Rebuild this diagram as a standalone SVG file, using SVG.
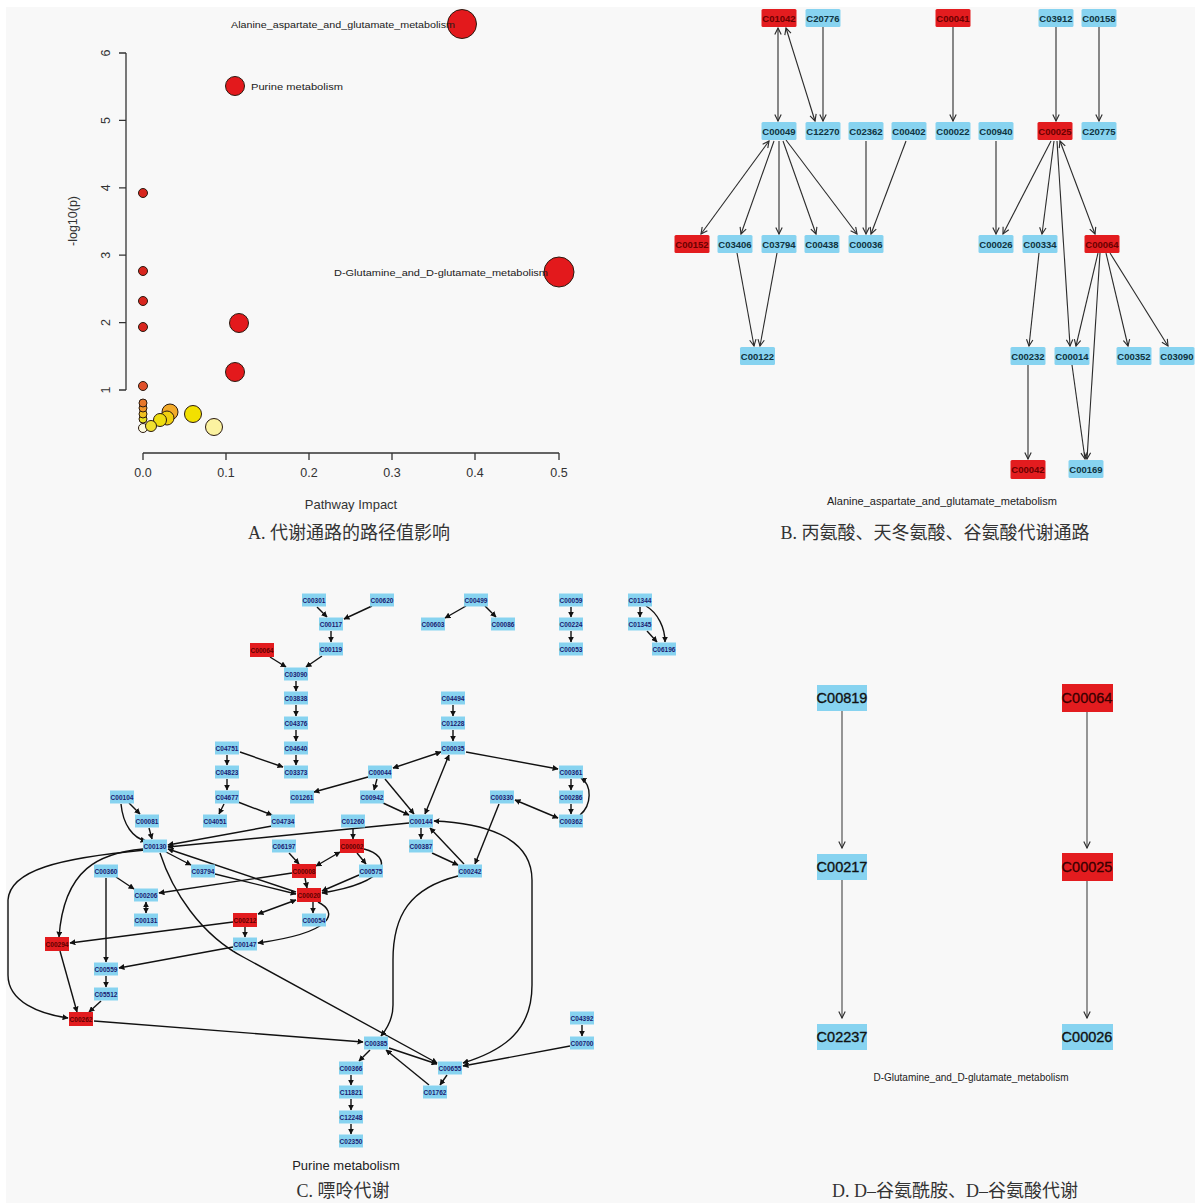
<svg xmlns="http://www.w3.org/2000/svg" width="1197" height="1203" viewBox="0 0 1197 1203">
<style>
text{font-family:"Liberation Sans","DejaVu Sans",sans-serif}
.cap{font-family:"Liberation Serif","Noto Sans CJK SC",serif;font-size:18px;fill:#333;text-anchor:middle}
.tick{font-size:12.5px;fill:#333;text-anchor:middle}
.plab{font-size:9.5px;fill:#1a1a1a}
.ax{stroke:#333;stroke-width:1.3;fill:none}
.pt{stroke:#2a1a10;stroke-width:1}
.bb{fill:#87d3f0}.br{fill:#e31c1f}
.bt{font-size:9.5px;font-weight:bold;fill:#0f3340;text-anchor:middle}
.brt{font-size:9.5px;font-weight:bold;fill:#6a0000;text-anchor:middle}
.cb{fill:#87d3f0}.cr{fill:#e31c1f}
.ct{font-size:6.5px;font-weight:bold;fill:#1a1a70;text-anchor:middle}
.crt{font-size:6.5px;font-weight:bold;fill:#600000;text-anchor:middle}
.dt{font-size:14.5px;fill:#111;stroke:#111;stroke-width:0.35;text-anchor:middle}
.drt{font-size:14.5px;fill:#3a0000;stroke:#3a0000;stroke-width:0.3;text-anchor:middle}
.eb{stroke:#2b2b2b;stroke-width:1.1;fill:none;marker-end:url(#mb)}
.ebb{stroke:#2b2b2b;stroke-width:1.1;fill:none;marker-end:url(#mb);marker-start:url(#mb)}
.ed{stroke:#444;stroke-width:1.1;fill:none;marker-end:url(#mb)}
.ec{stroke:#111;stroke-width:1.4;fill:none;marker-end:url(#mc)}
.ecb{stroke:#111;stroke-width:1.4;fill:none;marker-end:url(#mc);marker-start:url(#mc)}
.sub{font-size:11px;fill:#222;text-anchor:middle}
</style>
<defs>
<marker id="mb" viewBox="0 0 10 10" refX="9" refY="5" markerWidth="8" markerHeight="8" markerUnits="userSpaceOnUse" orient="auto-start-reverse"><path d="M1,1 L9,5 L1,9" fill="none" stroke="#2b2b2b" stroke-width="1.4"/></marker>
<marker id="mc" viewBox="0 0 10 10" refX="9" refY="5" markerWidth="6" markerHeight="6" markerUnits="userSpaceOnUse" orient="auto-start-reverse"><path d="M0,0 L10,5 L0,10 z" fill="#111"/></marker>
</defs>
<rect x="0" y="0" width="1197" height="1203" fill="#ffffff"/>
<rect x="6" y="7" width="1189" height="1196" fill="#f8f8f8"/>

<!-- Panel A -->
<g id="panelA">
<path class="ax" d="M126,53 L126,390 M119,53 L126,53 M119,120.4 L126,120.4 M119,187.8 L126,187.8 M119,255.2 L126,255.2 M119,322.6 L126,322.6 M119,390 L126,390"/>
<path class="ax" d="M143,453 L559,453 M143,453 L143,460 M226,453 L226,460 M309,453 L309,460 M392,453 L392,460 M475,453 L475,460 M559,453 L559,460"/>
<text class="tick" transform="rotate(-90 110 53)" x="110" y="53">6</text>
<text class="tick" transform="rotate(-90 110 120.4)" x="110" y="120.4">5</text>
<text class="tick" transform="rotate(-90 110 187.8)" x="110" y="187.8">4</text>
<text class="tick" transform="rotate(-90 110 255.2)" x="110" y="255.2">3</text>
<text class="tick" transform="rotate(-90 110 322.6)" x="110" y="322.6">2</text>
<text class="tick" transform="rotate(-90 110 390)" x="110" y="390">1</text>
<text class="tick" x="143" y="477">0.0</text>
<text class="tick" x="226" y="477">0.1</text>
<text class="tick" x="309" y="477">0.2</text>
<text class="tick" x="392" y="477">0.3</text>
<text class="tick" x="475" y="477">0.4</text>
<text class="tick" x="559" y="477">0.5</text>
<text class="tick" x="351" y="509" style="font-size:13px">Pathway Impact</text>
<text class="tick" transform="rotate(-90 77 221)" x="77" y="221">-log10(p)</text>
<circle class="pt" cx="143" cy="193" r="4.5" fill="#d8261e"/>
<circle class="pt" cx="143" cy="271" r="4.5" fill="#d8261e"/>
<circle class="pt" cx="143" cy="301" r="4.5" fill="#d8261e"/>
<circle class="pt" cx="143" cy="327" r="4.5" fill="#d8261e"/>
<circle class="pt" cx="143" cy="386" r="4.5" fill="#e0502a"/>
<circle class="pt" cx="143" cy="428" r="4.5" fill="#fdfbe0"/>
<circle class="pt" cx="143" cy="419" r="4" fill="#e8e020"/>
<circle class="pt" cx="143" cy="414" r="4" fill="#f0c020"/>
<circle class="pt" cx="143" cy="408" r="4" fill="#f0962a"/>
<circle class="pt" cx="143" cy="403" r="4" fill="#e8772a"/>
<circle class="pt" cx="214" cy="427" r="8.5" fill="#fbf2a0"/>
<circle class="pt" cx="193" cy="414" r="8.5" fill="#f2e000"/>
<circle class="pt" cx="170" cy="412" r="8" fill="#f2aa2a"/>
<circle class="pt" cx="167" cy="418" r="7" fill="#f0d010"/>
<circle class="pt" cx="160" cy="420" r="6.5" fill="#eedd10"/>
<circle class="pt" cx="151" cy="426" r="5.5" fill="#efe030"/>
<circle class="pt" cx="239" cy="323" r="9.5" fill="#e3191c"/>
<circle class="pt" cx="235" cy="372" r="9.5" fill="#e3191c"/>
<circle class="pt" cx="235" cy="86" r="9.5" fill="#e3191c"/>
<circle class="pt" cx="462" cy="24" r="14.5" fill="#e3191c"/>
<circle class="pt" cx="559" cy="272" r="15" fill="#e3191c"/>
<text class="plab" x="231" y="28" textLength="224" lengthAdjust="spacingAndGlyphs">Alanine_aspartate_and_glutamate_metabolism</text>
<text class="plab" x="251" y="90" textLength="92" lengthAdjust="spacingAndGlyphs">Purine metabolism</text>
<text class="plab" x="334" y="276" textLength="214" lengthAdjust="spacingAndGlyphs">D-Glutamine_and_D-glutamate_metabolism</text>
<text class="cap" x="349" y="539">A. 代谢通路的路径值影响</text>
</g>

<!-- Panel B connectors -->
<g id="edgesB">
<path class="ebb" d="M778,28 L778,121"/>
<path class="ebb" d="M786,28 L815,121"/>
<path class="eb" d="M823,27 L823,121"/>
<path class="eb" d="M953,27 L953,121"/>
<path class="eb" d="M1056,27 L1056,121"/>
<path class="eb" d="M1099,27 L1099,121"/>
<path class="ebb" d="M769,141 L701,234"/>
<path class="eb" d="M774,141 L741,234"/>
<path class="eb" d="M779,141 L779,234"/>
<path class="eb" d="M783,141 L816,234"/>
<path class="eb" d="M786,140 L857,234"/>
<path class="eb" d="M866,141 L866,234"/>
<path class="eb" d="M906,141 L871,234"/>
<path class="eb" d="M996,141 L996,234"/>
<path class="eb" d="M1051,141 L1003,234"/>
<path class="eb" d="M1054,141 L1042,234"/>
<path class="eb" d="M1057,141 L1070,346"/>
<path class="ebb" d="M1060,141 L1095,234"/>
<path class="eb" d="M737,253 L754,346"/>
<path class="eb" d="M777,253 L760,346"/>
<path class="eb" d="M1039,253 L1029,346"/>
<path class="eb" d="M1098,253 L1076,346"/>
<path class="eb" d="M1106,253 L1128,346"/>
<path class="eb" d="M1110,253 L1168,346"/>
<path class="eb" d="M1100,253 L1087,459"/>
<path class="eb" d="M1028,365 L1028,459"/>
<path class="eb" d="M1072,365 L1085,459"/>
</g>

<!-- Panel B nodes -->
<g id="B_C01042"><rect class="br" x="761.5" y="9" width="35" height="18" rx="1.5"/><text class="brt" x="779" y="21.5">C01042</text></g>
<g id="B_C20776"><rect class="bb" x="805.5" y="9" width="35" height="18" rx="1.5"/><text class="bt" x="823" y="21.5">C20776</text></g>
<g id="B_C00041"><rect class="br" x="935.5" y="9" width="35" height="18" rx="1.5"/><text class="brt" x="953" y="21.5">C00041</text></g>
<g id="B_C03912"><rect class="bb" x="1038.5" y="9" width="35" height="18" rx="1.5"/><text class="bt" x="1056" y="21.5">C03912</text></g>
<g id="B_C00158"><rect class="bb" x="1081.5" y="9" width="35" height="18" rx="1.5"/><text class="bt" x="1099" y="21.5">C00158</text></g>
<g id="B_C00049"><rect class="bb" x="761.5" y="122" width="35" height="18" rx="1.5"/><text class="bt" x="779" y="134.5">C00049</text></g>
<g id="B_C12270"><rect class="bb" x="805.5" y="122" width="35" height="18" rx="1.5"/><text class="bt" x="823" y="134.5">C12270</text></g>
<g id="B_C02362"><rect class="bb" x="848.5" y="122" width="35" height="18" rx="1.5"/><text class="bt" x="866" y="134.5">C02362</text></g>
<g id="B_C00402"><rect class="bb" x="891.5" y="122" width="35" height="18" rx="1.5"/><text class="bt" x="909" y="134.5">C00402</text></g>
<g id="B_C00022"><rect class="bb" x="935.5" y="122" width="35" height="18" rx="1.5"/><text class="bt" x="953" y="134.5">C00022</text></g>
<g id="B_C00940"><rect class="bb" x="978.5" y="122" width="35" height="18" rx="1.5"/><text class="bt" x="996" y="134.5">C00940</text></g>
<g id="B_C00025"><rect class="br" x="1037.5" y="122" width="35" height="18" rx="1.5"/><text class="brt" x="1055" y="134.5">C00025</text></g>
<g id="B_C20775"><rect class="bb" x="1081.5" y="122" width="35" height="18" rx="1.5"/><text class="bt" x="1099" y="134.5">C20775</text></g>
<g id="B_C00152"><rect class="br" x="674.5" y="235" width="35" height="18" rx="1.5"/><text class="brt" x="692" y="247.5">C00152</text></g>
<g id="B_C03406"><rect class="bb" x="717.5" y="235" width="35" height="18" rx="1.5"/><text class="bt" x="735" y="247.5">C03406</text></g>
<g id="B_C03794"><rect class="bb" x="761.5" y="235" width="35" height="18" rx="1.5"/><text class="bt" x="779" y="247.5">C03794</text></g>
<g id="B_C00438"><rect class="bb" x="804.5" y="235" width="35" height="18" rx="1.5"/><text class="bt" x="822" y="247.5">C00438</text></g>
<g id="B_C00036"><rect class="bb" x="848.5" y="235" width="35" height="18" rx="1.5"/><text class="bt" x="866" y="247.5">C00036</text></g>
<g id="B_C00026"><rect class="bb" x="978.5" y="235" width="35" height="18" rx="1.5"/><text class="bt" x="996" y="247.5">C00026</text></g>
<g id="B_C00334"><rect class="bb" x="1022.5" y="235" width="35" height="18" rx="1.5"/><text class="bt" x="1040" y="247.5">C00334</text></g>
<g id="B_C00064"><rect class="br" x="1084.5" y="235" width="35" height="18" rx="1.5"/><text class="brt" x="1102" y="247.5">C00064</text></g>
<g id="B_C00122"><rect class="bb" x="740" y="347" width="35" height="18" rx="1.5"/><text class="bt" x="757.5" y="359.5">C00122</text></g>
<g id="B_C00232"><rect class="bb" x="1010.5" y="347" width="35" height="18" rx="1.5"/><text class="bt" x="1028" y="359.5">C00232</text></g>
<g id="B_C00014"><rect class="bb" x="1054.5" y="347" width="35" height="18" rx="1.5"/><text class="bt" x="1072" y="359.5">C00014</text></g>
<g id="B_C00352"><rect class="bb" x="1116.5" y="347" width="35" height="18" rx="1.5"/><text class="bt" x="1134" y="359.5">C00352</text></g>
<g id="B_C03090"><rect class="bb" x="1159.5" y="347" width="35" height="18" rx="1.5"/><text class="bt" x="1177" y="359.5">C03090</text></g>
<g id="B_C00042"><rect class="br" x="1010.5" y="460" width="35" height="19" rx="1.5"/><text class="brt" x="1028" y="473">C00042</text></g>
<g id="B_C00169"><rect class="bb" x="1068.5" y="460" width="35" height="18" rx="1.5"/><text class="bt" x="1086" y="472.5">C00169</text></g>
<text class="sub" x="942" y="505">Alanine_aspartate_and_glutamate_metabolism</text>
<text class="cap" x="935" y="539">B. 丙氨酸、天冬氨酸、谷氨酸代谢通路</text>

<!-- Panel C connectors -->
<g id="edgesC">
<path class="ec" d="M317,607 L327,617"/>
<path class="ec" d="M372,606 L344,619"/>
<path class="ec" d="M331,631 L331,642"/>
<path class="ec" d="M270,657 L286,667"/>
<path class="ec" d="M322,656 L306,667"/>
<path class="ec" d="M296,681 L296,691"/>
<path class="ec" d="M296,705 L296,716"/>
<path class="ec" d="M296,730 L296,741"/>
<path class="ec" d="M296,755 L296,765"/>
<path class="ec" d="M240,752 L283,767"/>
<path class="ec" d="M227,755 L227,765"/>
<path class="ec" d="M227,779 L227,790"/>
<path class="ec" d="M224,804 L219,814"/>
<path class="ec" d="M238,802 L272,815"/>
<path class="ec" d="M272,826 L168,845"/>
<path class="ec" d="M129,803 L140,814"/>
<path class="ec" d="M121,804 C123,825 133,838 146,841"/>
<path class="ec" d="M149,828 L152,839"/>
<path class="ec" d="M466,606 L445,618"/>
<path class="ec" d="M485,606 L496,617"/>
<path class="ec" d="M571,607 L571,617"/>
<path class="ec" d="M571,631 L571,642"/>
<path class="ec" d="M640,607 L640,617"/>
<path class="ec" d="M647,631 L657,642"/>
<path class="ec" d="M646,606 C658,613 665,628 665,642"/>
<path class="ec" d="M453,705 L453,716"/>
<path class="ec" d="M453,730 L453,741"/>
<path class="ecb" d="M441,752 L393,768"/>
<path class="ec" d="M466,752 L558,769"/>
<path class="ec" d="M368,777 L314,792"/>
<path class="ec" d="M377,779 L374,790"/>
<path class="ec" d="M385,779 L414,814"/>
<path class="ec" d="M383,803 L409,815"/>
<path class="ecb" d="M425,814 L449,755"/>
<path class="ec" d="M421,828 L421,839"/>
<path class="ec" d="M432,853 L458,865"/>
<path class="ec" d="M464,864 L430,828"/>
<path class="ec" d="M499,804 L475,864"/>
<path class="ecb" d="M515,800 L558,818"/>
<path class="ec" d="M571,779 L571,790"/>
<path class="ec" d="M571,804 L571,814"/>
<path class="ec" d="M580,815 C592,805 592,785 581,778"/>
<path class="ec" d="M409,823 L168,847"/>
<path class="ecb" d="M463,1063 C505,1050 532,1030 532,985 L532,880 C532,835 480,823 434,821"/>
<path class="ec" d="M458,876 C410,888 393,915 393,960 L393,1005 C393,1020 386,1030 381,1036"/>
<path class="ec" d="M160,853 C172,890 200,935 245,958 L437,1063"/>
<path class="ec" d="M94,1021 L363,1042"/>
<path class="ec" d="M370,1050 L359,1061"/>
<path class="ec" d="M389,1048 L437,1064"/>
<path class="ec" d="M429,1085 L386,1050"/>
<path class="ec" d="M447,1075 L440,1085"/>
<path class="ec" d="M351,1075 L351,1085"/>
<path class="ec" d="M351,1099 L351,1110"/>
<path class="ec" d="M351,1124 L351,1134"/>
<path class="ec" d="M582,1025 L582,1036"/>
<path class="ec" d="M570,1046 L463,1066"/>
<path class="ec" d="M143,849 C100,853 64,868 59,937"/>
<path class="ec" d="M145,850 C60,858 10,870 8,900 L8,975 C8,1002 40,1014 68,1018"/>
<path class="ec" d="M60,951 L77,1012"/>
<path class="ec" d="M101,1001 L89,1012"/>
<path class="ec" d="M106,878 L106,962"/>
<path class="ec" d="M116,877 L134,889"/>
<path class="ec" d="M106,976 L106,987"/>
<path class="ec" d="M233,947 L119,968"/>
<path class="ec" d="M233,922 L70,943"/>
<path class="ec" d="M245,927 L245,937"/>
<path class="ecb" d="M258,914 L296,900"/>
<path class="ec" d="M313,902 L313,913"/>
<path class="ec" d="M364,849 C392,856 392,882 322,893"/>
<path class="ec" d="M318,902 C338,912 336,932 258,943"/>
<path class="ec" d="M357,853 L366,864"/>
<path class="ec" d="M359,875 L322,891"/>
<path class="ec" d="M353,828 L353,839"/>
<path class="ec" d="M289,853 L299,864"/>
<path class="ecb" d="M316,866 L340,852"/>
<path class="ec" d="M292,873 L159,893"/>
<path class="ec" d="M305,878 L307,888"/>
<path class="ec" d="M296,892 L168,849"/>
<path class="ec" d="M166,852 L191,865"/>
<path class="ec" d="M215,874 L296,894"/>
<path class="ecb" d="M146,902 L146,913"/>
</g>

<!-- Panel C nodes -->
<g id="C_C00301"><rect class="cb" x="302" y="593.5" width="24" height="13"/><text class="ct" x="314" y="602.5">C00301</text></g>
<g id="C_C00620"><rect class="cb" x="370" y="593.5" width="24" height="13"/><text class="ct" x="382" y="602.5">C00620</text></g>
<g id="C_C00499"><rect class="cb" x="464" y="593.5" width="24" height="13"/><text class="ct" x="476" y="602.5">C00499</text></g>
<g id="C_C00059"><rect class="cb" x="559" y="593.5" width="24" height="13"/><text class="ct" x="571" y="602.5">C00059</text></g>
<g id="C_C01344"><rect class="cb" x="628" y="593.5" width="24" height="13"/><text class="ct" x="640" y="602.5">C01344</text></g>
<g id="C_C00117"><rect class="cb" x="319" y="617.5" width="24" height="13"/><text class="ct" x="331" y="626.5">C00117</text></g>
<g id="C_C00603"><rect class="cb" x="421" y="617.5" width="24" height="13"/><text class="ct" x="433" y="626.5">C00603</text></g>
<g id="C_C00086"><rect class="cb" x="491" y="617.5" width="24" height="13"/><text class="ct" x="503" y="626.5">C00086</text></g>
<g id="C_C00224"><rect class="cb" x="559" y="617.5" width="24" height="13"/><text class="ct" x="571" y="626.5">C00224</text></g>
<g id="C_C01345"><rect class="cb" x="628" y="617.5" width="24" height="13"/><text class="ct" x="640" y="626.5">C01345</text></g>
<g id="C_C00064"><rect class="cr" x="250" y="643" width="24" height="14"/><text class="crt" x="262" y="652.5">C00064</text></g>
<g id="C_C00119"><rect class="cb" x="319" y="642.5" width="24" height="13"/><text class="ct" x="331" y="651.5">C00119</text></g>
<g id="C_C00053"><rect class="cb" x="559" y="642.5" width="24" height="13"/><text class="ct" x="571" y="651.5">C00053</text></g>
<g id="C_C06196"><rect class="cb" x="652" y="642.5" width="24" height="13"/><text class="ct" x="664" y="651.5">C06196</text></g>
<g id="C_C03090"><rect class="cb" x="284" y="667.5" width="24" height="13"/><text class="ct" x="296" y="676.5">C03090</text></g>
<g id="C_C03838"><rect class="cb" x="284" y="691.5" width="24" height="13"/><text class="ct" x="296" y="700.5">C03838</text></g>
<g id="C_C04494"><rect class="cb" x="441" y="691.5" width="24" height="13"/><text class="ct" x="453" y="700.5">C04494</text></g>
<g id="C_C04376"><rect class="cb" x="284" y="716.5" width="24" height="13"/><text class="ct" x="296" y="725.5">C04376</text></g>
<g id="C_C01228"><rect class="cb" x="441" y="716.5" width="24" height="13"/><text class="ct" x="453" y="725.5">C01228</text></g>
<g id="C_C04751"><rect class="cb" x="215" y="741.5" width="24" height="13"/><text class="ct" x="227" y="750.5">C04751</text></g>
<g id="C_C04640"><rect class="cb" x="284" y="741.5" width="24" height="13"/><text class="ct" x="296" y="750.5">C04640</text></g>
<g id="C_C00035"><rect class="cb" x="441" y="741.5" width="24" height="13"/><text class="ct" x="453" y="750.5">C00035</text></g>
<g id="C_C04823"><rect class="cb" x="215" y="765.5" width="24" height="13"/><text class="ct" x="227" y="774.5">C04823</text></g>
<g id="C_C03373"><rect class="cb" x="284" y="765.5" width="24" height="13"/><text class="ct" x="296" y="774.5">C03373</text></g>
<g id="C_C00044"><rect class="cb" x="368" y="765.5" width="24" height="13"/><text class="ct" x="380" y="774.5">C00044</text></g>
<g id="C_C00361"><rect class="cb" x="559" y="765.5" width="24" height="13"/><text class="ct" x="571" y="774.5">C00361</text></g>
<g id="C_C00104"><rect class="cb" x="110" y="790.5" width="24" height="13"/><text class="ct" x="122" y="799.5">C00104</text></g>
<g id="C_C04677"><rect class="cb" x="215" y="790.5" width="24" height="13"/><text class="ct" x="227" y="799.5">C04677</text></g>
<g id="C_C01261"><rect class="cb" x="290" y="790.5" width="24" height="13"/><text class="ct" x="302" y="799.5">C01261</text></g>
<g id="C_C00942"><rect class="cb" x="360" y="790.5" width="24" height="13"/><text class="ct" x="372" y="799.5">C00942</text></g>
<g id="C_C00330"><rect class="cb" x="490" y="790.5" width="24" height="13"/><text class="ct" x="502" y="799.5">C00330</text></g>
<g id="C_C00286"><rect class="cb" x="559" y="790.5" width="24" height="13"/><text class="ct" x="571" y="799.5">C00286</text></g>
<g id="C_C00081"><rect class="cb" x="135" y="814.5" width="24" height="13"/><text class="ct" x="147" y="823.5">C00081</text></g>
<g id="C_C04051"><rect class="cb" x="203" y="814.5" width="24" height="13"/><text class="ct" x="215" y="823.5">C04051</text></g>
<g id="C_C04734"><rect class="cb" x="271" y="814.5" width="24" height="13"/><text class="ct" x="283" y="823.5">C04734</text></g>
<g id="C_C01260"><rect class="cb" x="341" y="814.5" width="24" height="13"/><text class="ct" x="353" y="823.5">C01260</text></g>
<g id="C_C00144"><rect class="cb" x="409" y="814.5" width="24" height="13"/><text class="ct" x="421" y="823.5">C00144</text></g>
<g id="C_C00362"><rect class="cb" x="559" y="814.5" width="24" height="13"/><text class="ct" x="571" y="823.5">C00362</text></g>
<g id="C_C00130"><rect class="cb" x="143" y="839.5" width="24" height="13"/><text class="ct" x="155" y="848.5">C00130</text></g>
<g id="C_C06197"><rect class="cb" x="272" y="839.5" width="24" height="13"/><text class="ct" x="284" y="848.5">C06197</text></g>
<g id="C_C00002"><rect class="cr" x="340" y="839" width="24" height="14"/><text class="crt" x="352" y="848.5">C00002</text></g>
<g id="C_C00387"><rect class="cb" x="409" y="839.5" width="24" height="13"/><text class="ct" x="421" y="848.5">C00387</text></g>
<g id="C_C00360"><rect class="cb" x="94" y="864.5" width="24" height="13"/><text class="ct" x="106" y="873.5">C00360</text></g>
<g id="C_C03794"><rect class="cb" x="191" y="864.5" width="24" height="13"/><text class="ct" x="203" y="873.5">C03794</text></g>
<g id="C_C00008"><rect class="cr" x="292" y="864" width="24" height="14"/><text class="crt" x="304" y="873.5">C00008</text></g>
<g id="C_C00575"><rect class="cb" x="359" y="864.5" width="24" height="13"/><text class="ct" x="371" y="873.5">C00575</text></g>
<g id="C_C00242"><rect class="cb" x="458" y="864.5" width="24" height="13"/><text class="ct" x="470" y="873.5">C00242</text></g>
<g id="C_C00206"><rect class="cb" x="134" y="888.5" width="24" height="13"/><text class="ct" x="146" y="897.5">C00206</text></g>
<g id="C_C00020"><rect class="cr" x="297" y="888" width="24" height="14"/><text class="crt" x="309" y="897.5">C00020</text></g>
<g id="C_C00131"><rect class="cb" x="134" y="913.5" width="24" height="13"/><text class="ct" x="146" y="922.5">C00131</text></g>
<g id="C_C00212"><rect class="cr" x="233" y="913" width="24" height="14"/><text class="crt" x="245" y="922.5">C00212</text></g>
<g id="C_C00054"><rect class="cb" x="302" y="913.5" width="24" height="13"/><text class="ct" x="314" y="922.5">C00054</text></g>
<g id="C_C00294"><rect class="cr" x="45" y="937" width="24" height="14"/><text class="crt" x="57" y="946.5">C00294</text></g>
<g id="C_C00147"><rect class="cb" x="233" y="937.5" width="24" height="13"/><text class="ct" x="245" y="946.5">C00147</text></g>
<g id="C_C00559"><rect class="cb" x="94" y="962.5" width="24" height="13"/><text class="ct" x="106" y="971.5">C00559</text></g>
<g id="C_C05512"><rect class="cb" x="94" y="987.5" width="24" height="13"/><text class="ct" x="106" y="996.5">C05512</text></g>
<g id="C_C00262"><rect class="cr" x="69" y="1012" width="24" height="14"/><text class="crt" x="81" y="1021.5">C00262</text></g>
<g id="C_C04392"><rect class="cb" x="570" y="1011.5" width="24" height="13"/><text class="ct" x="582" y="1020.5">C04392</text></g>
<g id="C_C00385"><rect class="cb" x="364" y="1036.5" width="24" height="13"/><text class="ct" x="376" y="1045.5">C00385</text></g>
<g id="C_C00700"><rect class="cb" x="570" y="1036.5" width="24" height="13"/><text class="ct" x="582" y="1045.5">C00700</text></g>
<g id="C_C00366"><rect class="cb" x="339" y="1061.5" width="24" height="13"/><text class="ct" x="351" y="1070.5">C00366</text></g>
<g id="C_C00655"><rect class="cb" x="438" y="1061.5" width="24" height="13"/><text class="ct" x="450" y="1070.5">C00655</text></g>
<g id="C_C11821"><rect class="cb" x="339" y="1085.5" width="24" height="13"/><text class="ct" x="351" y="1094.5">C11821</text></g>
<g id="C_C01762"><rect class="cb" x="423" y="1085.5" width="24" height="13"/><text class="ct" x="435" y="1094.5">C01762</text></g>
<g id="C_C12248"><rect class="cb" x="339" y="1110.5" width="24" height="13"/><text class="ct" x="351" y="1119.5">C12248</text></g>
<g id="C_C02350"><rect class="cb" x="339" y="1134.5" width="24" height="13"/><text class="ct" x="351" y="1143.5">C02350</text></g>
<text class="sub" x="346" y="1170" style="font-size:13px">Purine metabolism</text>
<text class="cap" x="343" y="1197">C. 嘌呤代谢</text>

<!-- Panel D connectors -->
<g id="edgesD">
<path class="ed" d="M842,711 L842,848"/>
<path class="ed" d="M842,880 L842,1018"/>
<path class="ed" d="M1087,712 L1087,848"/>
<path class="ed" d="M1087,881 L1087,1018"/>
</g>
<g id="D_C00819"><rect class="bb" x="817" y="685" width="50" height="26"/><text class="dt" x="842" y="703">C00819</text></g>
<g id="D_C00217"><rect class="bb" x="817" y="854" width="50" height="26"/><text class="dt" x="842" y="872">C00217</text></g>
<g id="D_C02237"><rect class="bb" x="817" y="1024" width="50" height="26"/><text class="dt" x="842" y="1042">C02237</text></g>
<g id="D_C00064"><rect class="br" x="1062" y="684" width="51" height="28"/><text class="drt" x="1087" y="703">C00064</text></g>
<g id="D_C00025"><rect class="br" x="1062" y="853" width="51" height="28"/><text class="drt" x="1087" y="872">C00025</text></g>
<g id="D_C00026"><rect class="bb" x="1062" y="1024" width="51" height="26"/><text class="dt" x="1087" y="1042">C00026</text></g>
<text class="sub" x="971" y="1081" style="font-size:10px">D-Glutamine_and_D-glutamate_metabolism</text>
<text class="cap" x="955" y="1197">D. D–谷氨酰胺、D–谷氨酸代谢</text>
</svg>
